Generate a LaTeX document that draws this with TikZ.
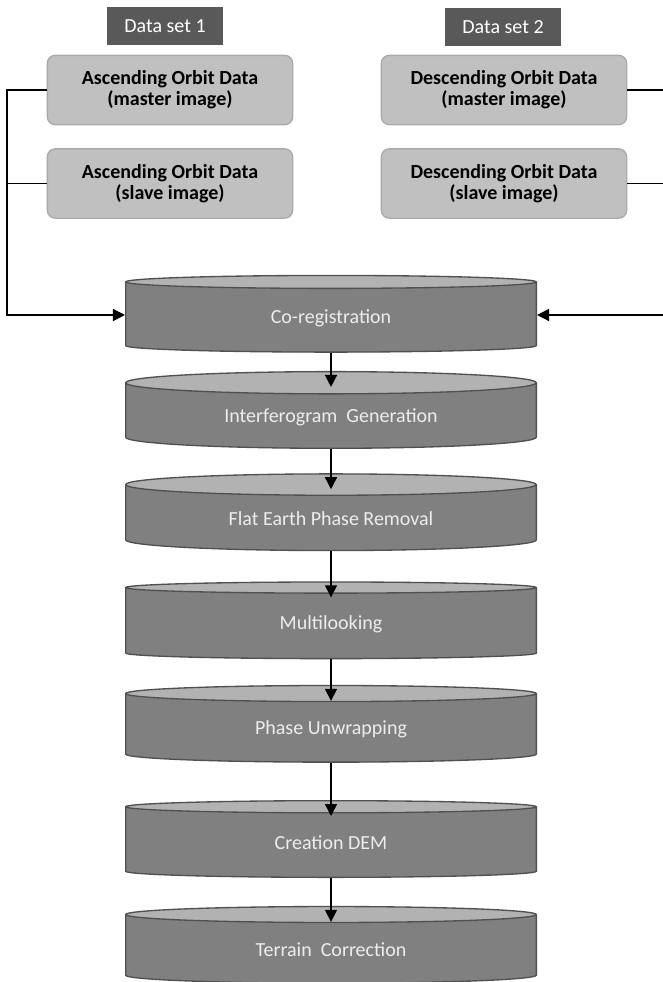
\documentclass[tikz,border=0pt]{standalone}
\usepackage{fontspec}
\setmainfont{Carlito}
\usetikzlibrary{shapes.geometric,arrows.meta}
\definecolor{boxgray}{RGB}{192,192,192}
\definecolor{boxline}{RGB}{170,170,170}
\definecolor{taggray}{RGB}{89,89,89}
\definecolor{bodygray}{RGB}{128,128,128}
\definecolor{endgray}{RGB}{178,178,178}
\definecolor{rimgray}{RGB}{80,80,80}
\begin{document}
\begin{tikzpicture}[x=0.75pt,y=-0.75pt,line width=1pt,
tag box/.style={rectangle,fill=taggray,text=white,minimum width=87pt,minimum height=28.5pt,font=\fontsize{15}{15.5}\selectfont},
data box/.style={rectangle,rounded corners=6pt,draw=boxline,fill=boxgray,minimum width=184pt,minimum height=52pt,align=center,font=\fontsize{15}{15.5}\selectfont\bfseries},
proc node/.style={cylinder,shape border rotate=90,aspect=0.1,draw=rimgray,cylinder uses custom fill,cylinder body fill=bodygray,cylinder end fill=endgray,minimum width=308pt,minimum height=57.5pt,text=white!93!black,font=\fontsize{15}{15.5}\selectfont},
arr/.style={-{Triangle[length=9pt,width=9pt]}}]
\useasboundingbox (0,0) rectangle (662,982);
% inputs
\node[tag box] (t1) at (165,26) {Data set 1};
\node[tag box] (t2) at (503,27) {Data set 2};
\node[data box] (am) at (170,90) {Ascending Orbit Data\\(master image)};
\node[data box] (as) at (170,183.5) {Ascending Orbit Data\\(slave image)};
\node[data box] (dm) at (504,90) {Descending Orbit Data\\(master image)};
\node[data box] (ds) at (504,183.5) {Descending Orbit Data\\(slave image)};
% processing chain
\node[proc node] (cr) at (331,318) {Co-registration};
\node[proc node] (ig) at (331,417) {Interferogram~~Generation};
\node[proc node] (fe) at (331,519) {Flat Earth Phase Removal};
\node[proc node] (ml) at (331,624) {Multilooking};
\node[proc node] (pu) at (331,729) {Phase Unwrapping};
\node[proc node] (dem) at (331,843) {Creation DEM};
\node[proc node] (tc) at (331,950) {Terrain~~Correction};
\coordinate (lbus) at (7,315);
\coordinate (rbus) at (667,315);
\draw[arr] (am.west) -| (lbus) -- (lbus -| cr.west);
\draw (as.west) -- (as.west -| lbus);
\draw[arr] (dm.east) -| (rbus) -- (rbus -| cr.east);
\draw (ds.east) -- (ds.east -| rbus);
\begin{scope}[every edge/.style={draw=black,arr,shorten >=-12pt}]
\draw (cr) edge (ig);
\draw (ig) edge (fe);
\draw (fe) edge (ml);
\draw (ml) edge (pu);
\draw (pu) edge (dem);
\draw (dem) edge (tc);
\end{scope}
\end{tikzpicture}
\end{document}
